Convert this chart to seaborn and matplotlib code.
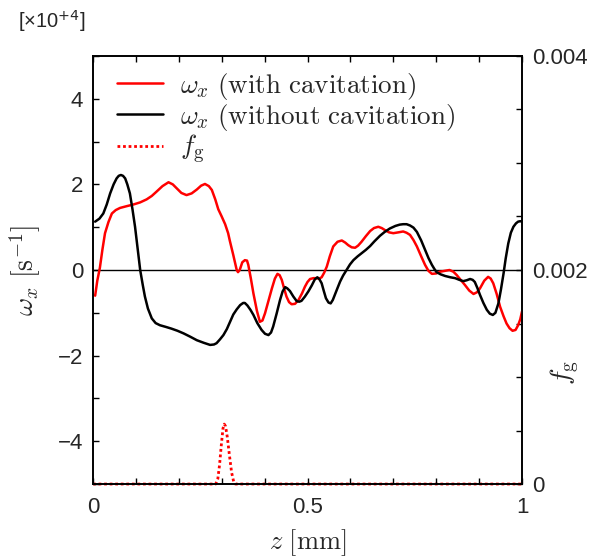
import numpy as np
import pandas as pd
import matplotlib
matplotlib.use("Agg")
import matplotlib.pyplot as plt
from matplotlib.ticker import MultipleLocator
import seaborn as sns

# vorticite avec cavitation (rouge)
z_with = [0.005, 0.010, 0.016, 0.022, 0.028, 0.036, 0.044, 0.053, 0.063, 0.078,
          0.094, 0.110, 0.125, 0.137, 0.148, 0.162, 0.176, 0.186, 0.195, 0.206,
          0.218, 0.230, 0.242, 0.252, 0.261, 0.270, 0.277, 0.285, 0.292, 0.300,
          0.308, 0.315, 0.319, 0.327, 0.335, 0.338, 0.342, 0.348, 0.354, 0.359,
          0.362, 0.368, 0.374, 0.382, 0.389, 0.395, 0.401, 0.409, 0.417, 0.424,
          0.430, 0.435, 0.440, 0.446, 0.451, 0.457, 0.463, 0.471, 0.479, 0.487,
          0.494, 0.500, 0.506, 0.514, 0.521, 0.527, 0.533, 0.539, 0.545, 0.552,
          0.560, 0.570, 0.580, 0.588, 0.595, 0.603, 0.611, 0.618, 0.626, 0.636,
          0.646, 0.655, 0.665, 0.673, 0.681, 0.690, 0.700, 0.712, 0.723, 0.731,
          0.739, 0.747, 0.755, 0.765, 0.774, 0.782, 0.790, 0.800, 0.809, 0.820,
          0.831, 0.840, 0.848, 0.857, 0.867, 0.877, 0.887, 0.895, 0.902, 0.912,
          0.921, 0.927, 0.933, 0.941, 0.949, 0.957, 0.964, 0.971, 0.978, 0.985,
          0.991, 0.996, 1.000]
w_with = [-0.60, -0.25, 0.05, 0.48, 0.86, 1.12, 1.32, 1.40, 1.45, 1.49,
          1.53, 1.58, 1.65, 1.73, 1.83, 1.96, 2.05, 2.00, 1.91, 1.80,
          1.75, 1.79, 1.88, 1.97, 2.01, 1.96, 1.87, 1.65, 1.42, 1.25,
          1.07, 0.86, 0.68, 0.35, 0.00, -0.05, 0.00, 0.18, 0.23, 0.22,
          0.12, -0.20, -0.55, -0.95, -1.21, -1.18, -1.01, -0.72, -0.43, -0.20,
          -0.09, -0.12, -0.23, -0.45, -0.62, -0.75, -0.80, -0.79, -0.70, -0.55,
          -0.39, -0.28, -0.21, -0.19, -0.19, -0.20, -0.17, -0.06, 0.08, 0.32,
          0.55, 0.66, 0.69, 0.64, 0.58, 0.53, 0.52, 0.57, 0.66, 0.79,
          0.91, 0.98, 1.01, 0.98, 0.93, 0.88, 0.86, 0.88, 0.90, 0.87,
          0.82, 0.70, 0.55, 0.32, 0.12, -0.02, -0.09, -0.08, -0.04, -0.02,
          0.00, -0.04, -0.12, -0.23, -0.35, -0.48, -0.56, -0.52, -0.43, -0.25,
          -0.16, -0.20, -0.31, -0.56, -0.86, -1.08, -1.25, -1.36, -1.42, -1.40,
          -1.29, -1.15, -0.97]

# vorticite sans cavitation (noir)
z_without = [0.005, 0.015, 0.024, 0.032, 0.040, 0.048, 0.055, 0.060, 0.065, 0.070,
             0.075, 0.080, 0.086, 0.092, 0.098, 0.104, 0.110, 0.116, 0.121, 0.128,
             0.137, 0.146, 0.156, 0.170, 0.183, 0.197, 0.211, 0.227, 0.242, 0.258,
             0.273, 0.282, 0.288, 0.296, 0.304, 0.312, 0.320, 0.327, 0.335, 0.343,
             0.350, 0.354, 0.360, 0.367, 0.374, 0.383, 0.393, 0.401, 0.409, 0.415,
             0.420, 0.428, 0.436, 0.442, 0.448, 0.453, 0.459, 0.467, 0.475, 0.481,
             0.486, 0.494, 0.502, 0.510, 0.517, 0.523, 0.528, 0.533, 0.538, 0.543,
             0.549, 0.554, 0.559, 0.564, 0.570, 0.576, 0.583, 0.591, 0.599, 0.607,
             0.617, 0.626, 0.636, 0.646, 0.656, 0.669, 0.680, 0.692, 0.705, 0.715,
             0.723, 0.731, 0.739, 0.747, 0.755, 0.765, 0.774, 0.782, 0.790, 0.796,
             0.801, 0.810, 0.821, 0.833, 0.844, 0.854, 0.863, 0.871, 0.879, 0.885,
             0.890, 0.896, 0.902, 0.910, 0.918, 0.925, 0.932, 0.938, 0.945, 0.951,
             0.957, 0.962, 0.968, 0.974, 0.980, 0.986, 0.991, 0.996, 1.000]
w_without = [1.13, 1.20, 1.32, 1.53, 1.79, 2.00, 2.14, 2.20, 2.22, 2.20,
             2.14, 2.00, 1.79, 1.42, 1.01, 0.50, 0.00, -0.35, -0.62, -0.90,
             -1.13, -1.24, -1.29, -1.33, -1.37, -1.42, -1.48, -1.56, -1.64, -1.70,
             -1.75, -1.74, -1.71, -1.62, -1.52, -1.38, -1.20, -1.04, -0.92, -0.82,
             -0.77, -0.77, -0.83, -0.93, -1.05, -1.24, -1.40, -1.49, -1.52, -1.46,
             -1.32, -1.02, -0.70, -0.50, -0.40, -0.43, -0.49, -0.62, -0.73, -0.74,
             -0.72, -0.62, -0.50, -0.36, -0.22, -0.17, -0.22, -0.31, -0.49, -0.66,
             -0.76, -0.78, -0.70, -0.57, -0.42, -0.27, -0.13, 0.00, 0.13, 0.23,
             0.32, 0.39, 0.47, 0.56, 0.67, 0.80, 0.89, 0.97, 1.03, 1.06,
             1.07, 1.07, 1.04, 0.99, 0.89, 0.69, 0.47, 0.28, 0.12, 0.02,
             -0.05, -0.10, -0.14, -0.17, -0.19, -0.23, -0.26, -0.24, -0.21, -0.23,
             -0.28, -0.42, -0.58, -0.77, -0.93, -1.02, -1.05, -1.00, -0.78, -0.45,
             -0.08, 0.27, 0.62, 0.87, 1.01, 1.09, 1.13, 1.14, 1.13]

# fraction de gaz f_g
z_fg = [0.0, 0.286, 0.291, 0.295, 0.299, 0.303, 0.306, 0.309, 0.313, 0.318,
        0.323, 0.328, 0.332, 1.0]
fg = [0.0, 0.0, 0.00005, 0.00018, 0.00036, 0.00052, 0.00056, 0.00054, 0.00044, 0.00027,
      0.00011, 0.00002, 0.0, 0.0]

sns.set_style("ticks")
plt.rcParams["font.family"] = ["Liberation Sans", "DejaVu Sans"]
plt.rcParams["mathtext.fontset"] = "cm"

fig = plt.figure(figsize=(6.0, 5.57), dpi=100)
ax = fig.add_axes([0.155, 0.131, 0.715, 0.7685])
ax2 = ax.twinx()

df_with = pd.DataFrame({"z": z_with, "w": w_with})
df_without = pd.DataFrame({"z": z_without, "w": w_without})
df_fg = pd.DataFrame({"z": z_fg, "fg": fg})

sns.lineplot(data=df_with, x="z", y="w", ax=ax, color="red", lw=1.8,
             sort=False, estimator=None, label=r"$\omega_x\ \mathrm{(with\ cavitation)}$")
sns.lineplot(data=df_without, x="z", y="w", ax=ax, color="black", lw=1.8,
             sort=False, estimator=None, label=r"$\omega_x\ \mathrm{(without\ cavitation)}$")
ax.axhline(0, color="black", lw=1.0, zorder=1)

sns.lineplot(data=df_fg, x="z", y="fg", ax=ax2, color="red", lw=2.0,
             linestyle=(0, (1, 1)), sort=False, estimator=None, legend=False)
for ln in ax2.get_lines():
    ln.set_clip_on(False)

ax.set_xlim(0, 1)
ax.set_ylim(-5, 5)
ax2.set_ylim(0, 0.004)

ax.yaxis.set_major_locator(MultipleLocator(2))
ax.yaxis.set_minor_locator(MultipleLocator(1))
ax2.yaxis.set_major_locator(MultipleLocator(0.002))
ax2.yaxis.set_minor_locator(MultipleLocator(0.0005))
ax2.yaxis.set_major_formatter(plt.FuncFormatter(lambda v, p: "0" if v == 0 else f"{v:.3f}"))

for a in (ax, ax2):
    for s in a.spines.values():
        s.set_linewidth(1.2)
        s.set_color("black")

ax.set_xlabel(r"$z\ [\mathrm{mm}]$", fontsize=19)
ax.xaxis.set_label_coords(0.5, -0.1)
ax.set_ylabel(r"$\omega_x\ [\mathrm{s}^{-1}]$", fontsize=20)
ax.yaxis.set_label_coords(-0.116, 0.5)
ax2.set_ylabel("")
ax2.text(1.1, 0.26, r"$f_\mathrm{g}$", transform=ax2.transAxes, rotation=90,
         ha="center", va="center", fontsize=20)

fig.text(0.03, 0.963, r"[×10$^{+4}$]", fontsize=14.5, ha="left", va="center",
         math_fontfamily="dejavusans")

handles, labels = ax.get_legend_handles_labels()
handles.append(ax2.get_lines()[0])
labels.append(r"$f_\mathrm{g}$")
ax.legend(handles, labels, loc="upper left", bbox_to_anchor=(0.022, 1.0),
          frameon=False, fontsize=19.5, handlelength=1.7, handletextpad=0.63,
          labelspacing=0.0, borderaxespad=0.15)
ax2.set_zorder(ax.get_zorder() - 1)
ax.patch.set_visible(False)

# ticks de l'axe z : en haut et en bas, vers l'interieur (regles apres tout le reste)
ax.xaxis.set_major_locator(MultipleLocator(0.5))
ax.xaxis.set_minor_locator(MultipleLocator(0.1))
ax.xaxis.set_major_formatter(plt.FuncFormatter(lambda v, p: f"{v:g}"))
ax.xaxis.set_ticks_position("both")
ax.tick_params(axis="x", which="both", direction="in", top=True, bottom=True,
               labeltop=False, labelsize=16, width=1.0, length=4, pad=9, color="black")
ax.tick_params(axis="y", which="both", direction="in", left=True, right=False,
               labelsize=16, width=1.0, length=4, pad=7, color="black")
ax2.tick_params(axis="y", which="both", direction="in", labelsize=16,
                width=1.0, length=4, pad=7, color="black")

fig.savefig("out.png", dpi=100)
